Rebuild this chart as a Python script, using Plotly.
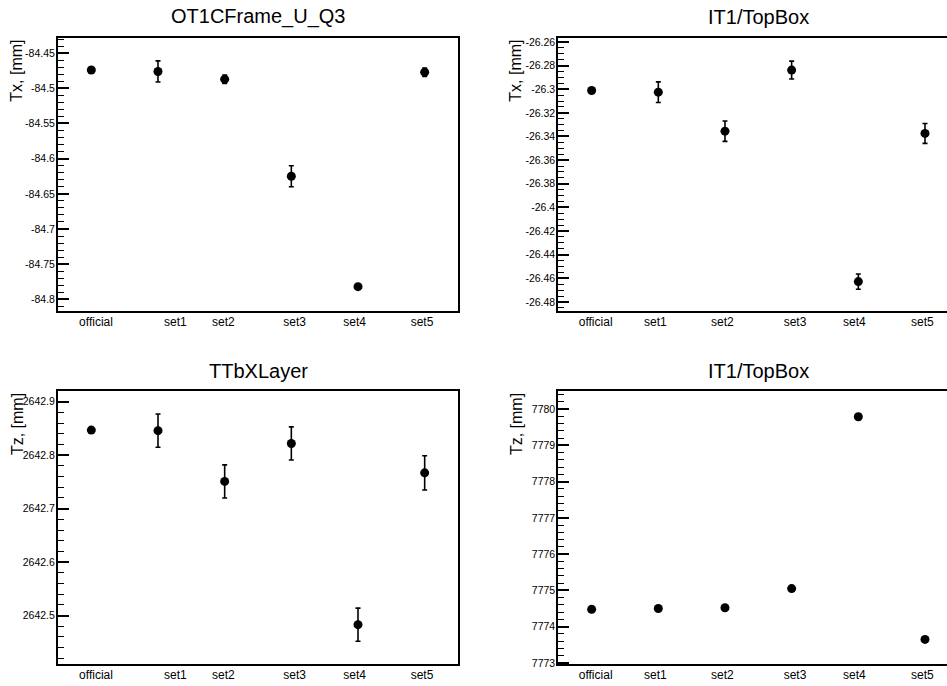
import numpy as np
import plotly.graph_objects as go

# Alignment sets compared against the official geometry
sets = ["official", "set1", "set2", "set3", "set4", "set5"]

# OT1CFrame_U_Q3, Tx [mm]
ot_tx = [-84.474, -84.476, -84.487, -84.625, -84.782, -84.477]
ot_tx_err = [0.0, 0.015, 0.006, 0.015, 0.0, 0.006]

# IT1/TopBox, Tx [mm]
it_tx = [-26.3011, -26.3025, -26.3355, -26.2838, -26.4628, -26.3374]
it_tx_err = [0.0, 0.0087, 0.0086, 0.0076, 0.0064, 0.0084]

# TTbXLayer, Tz [mm]
tt_tz = [2642.847, 2642.846, 2642.751, 2642.822, 2642.483, 2642.767]
tt_tz_err = [0.0, 0.031, 0.031, 0.031, 0.031, 0.032]

# IT1/TopBox, Tz [mm]
it_tz = [7774.477, 7774.50, 7774.52, 7775.05, 7779.79, 7773.647]
it_tz_err = [0.0, 0.0, 0.0, 0.0, 0.0, 0.0]

W, H = 947, 686
FONT = "Liberation Sans, Arial, Helvetica, sans-serif"

# category label anchors along each x axis (axis units)
left_label_pos = [0.07, 1.26, 1.98, 3.05, 3.95, 4.96]
right_label_pos = [0.06, 0.955, 1.96, 3.05, 3.94, 4.96]

panels = [
    dict(title="OT1CFrame_U_Q3", ytitle="Tx, [mm]", y=ot_tx, e=ot_tx_err,
         xdom=(58, 458), ydom=(36, 312), yrange=(-84.817, -84.428),
         major=(-84.8, -84.45, 0.05), minor=0.01, xrange=(-0.5, 5.5),
         labels=left_label_pos, right=True, ytx=17, title_y=15),
    dict(title="IT1/TopBox", ytitle="Tx, [mm]", y=it_tx, e=it_tx_err,
         xdom=(558.3, 947), ydom=(36, 312), yrange=(-26.4879, -26.2564),
         major=(-26.48, -26.26, 0.02), minor=0.005, xrange=(-0.5, 5.33),
         labels=right_label_pos, right=False, ytx=516, title_y=15),
    dict(title="TTbXLayer", ytitle="Tz, [mm]", y=tt_tz, e=tt_tz_err,
         xdom=(58, 458), ydom=(392.5, 668.3), yrange=(2642.4086, 2642.920),
         major=(2642.5, 2642.9, 0.1), minor=0.02, xrange=(-0.5, 5.5),
         labels=left_label_pos, right=True, ytx=17, title_y=372),
    dict(title="IT1/TopBox", ytitle="Tz, [mm]", y=it_tz, e=it_tz_err,
         xdom=(558.3, 947), ydom=(392.5, 668.3), yrange=(7772.956, 7780.50),
         major=(7773, 7780, 1.0), minor=0.2, xrange=(-0.5, 5.33),
         labels=right_label_pos, right=False, ytx=516, title_y=372),
]

fig = go.Figure()
annotations = []
layout_axes = {}

for i, p in enumerate(panels, start=1):
    xa = "x" if i == 1 else f"x{i}"
    ya = "y" if i == 1 else f"y{i}"
    xkey = "xaxis" if i == 1 else f"xaxis{i}"
    ykey = "yaxis" if i == 1 else f"yaxis{i}"

    xs = list(range(len(sets)))
    has_err = any(v > 0 for v in p["e"])
    fig.add_trace(go.Scatter(
        x=xs, y=p["y"], mode="markers", xaxis=xa, yaxis=ya,
        marker=dict(color="black", size=9, symbol="circle"),
        error_y=dict(type="data", array=p["e"], visible=has_err,
                     color="black", thickness=1.6, width=2.5),
        showlegend=False, hoverinfo="skip",
    ))

    lo, hi, step = p["major"]
    n = int(round((hi - lo) / step))
    tv = [round(lo + k * step, 6) for k in range(n + 1)]
    tt = [f"{v:.6f}".rstrip("0").rstrip(".") for v in tv]

    layout_axes[xkey] = dict(
        domain=[p["xdom"][0] / W, p["xdom"][1] / W], anchor=ya,
        range=list(p["xrange"]), showgrid=False, zeroline=False,
        showline=True, linecolor="black", linewidth=2, mirror=True,
        ticks="", tickmode="array", tickvals=p["labels"], ticktext=sets,
        tickfont=dict(family=FONT, size=12, color="black"),
        ticklabelstandoff=-2,
        fixedrange=True,
    )
    layout_axes[ykey] = dict(
        domain=[1 - p["ydom"][1] / H, 1 - p["ydom"][0] / H], anchor=xa,
        range=list(p["yrange"]), showgrid=False, zeroline=False,
        showline=True, linecolor="black", linewidth=2,
        mirror=True if p["right"] else False,
        ticks="inside", ticklen=11, tickwidth=1.6, tickcolor="black",
        tickmode="array", tickvals=tv, ticktext=tt,
        tickfont=dict(family=FONT, size=10.5, color="black"),
        ticklabelstandoff=-1,
        minor=dict(ticks="inside", ticklen=6, tickwidth=1.4, tickcolor="black",
                   tickmode="linear", tick0=lo, dtick=p["minor"], showgrid=False),
        fixedrange=True,
    )

    xc = (p["xdom"][0] + p["xdom"][0] + 400) / 2.0
    annotations.append(dict(
        text=p["title"], xref="paper", yref="paper",
        x=xc / W, y=1 - p["title_y"] / H, xanchor="center", yanchor="middle",
        showarrow=False, font=dict(family=FONT, size=20, color="black"),
    ))
    annotations.append(dict(
        text=p["ytitle"], xref="paper", yref="paper", textangle=-90,
        x=p["ytx"] / W, y=1 - p["ydom"][0] / H, xanchor="center", yanchor="top",
        showarrow=False, font=dict(family=FONT, size=16, color="black"),
    ))

fig.update_layout(
    width=W, height=H,
    margin=dict(l=0, r=0, t=0, b=0),
    paper_bgcolor="white", plot_bgcolor="white",
    annotations=annotations,
    **layout_axes,
)

fig.write_html("out.html", config={"displayModeBar": False})
